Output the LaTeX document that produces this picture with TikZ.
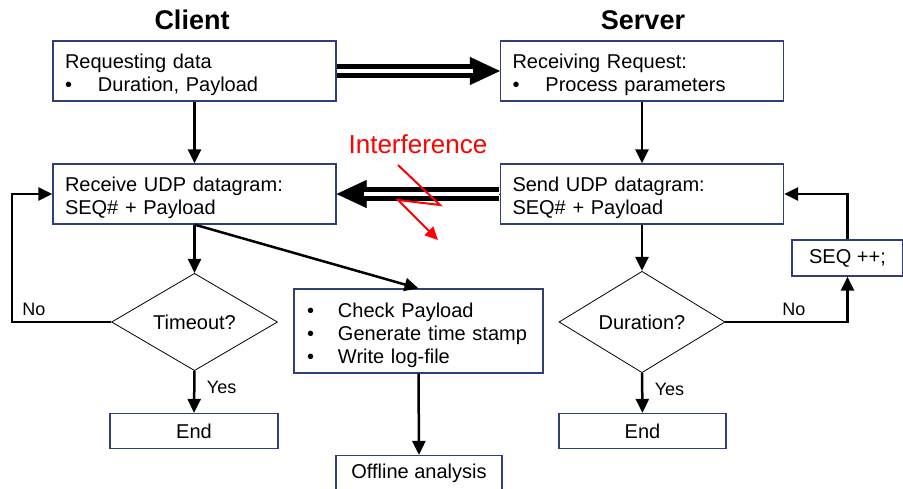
\documentclass[tikz,border=0pt]{standalone}
\usepackage{fontspec}
\setmainfont{Liberation Sans}
\usetikzlibrary{arrows.meta, shapes.geometric, positioning}
\definecolor{boxblue}{RGB}{47,63,120}

\begin{document}
\begin{tikzpicture}[x=1pt, y=-1pt,
    box/.style={draw=boxblue, line width=1.2pt, rectangle, minimum width=283pt, minimum height=60pt,
        text width=259pt, inner xsep=12pt, align=left, font=\fontsize{20}{23}\selectfont,
        execute at begin node={\rule{0pt}{23pt}}},
    endbox/.style={draw=boxblue, line width=1.2pt, rectangle, minimum height=35pt, inner sep=0pt,
        font=\fontsize{20}{23}\selectfont},
    decision/.style={draw, diamond, line width=0.8pt, minimum width=166pt, minimum height=68pt,
        inner sep=0pt, font=\fontsize{20}{23}\selectfont},
    arr/.style={line width=2.5pt, -{Triangle[length=14pt,width=13pt]}},
    lbl/.style={font=\fontsize{18}{20}\selectfont},
    title/.style={font=\fontsize{27}{30}\selectfont\bfseries}]
    \useasboundingbox (0,0) rectangle (903,489);

    % Titles
    \node[title] (cli) at (192,20) {Client};
    \node[title] (srv) at (643,20) {Server};

    % Client side
    \node[box] (req) at (194.5,71) {Requesting data\\\makebox[33pt][l]{\textbullet}Duration, Payload};
    \node[box] (rcv) at (194.5,194) {Receive UDP datagram:\\SEQ\# + Payload};
    \node[decision] (tmo) at (194.5,322) {Timeout?};
    \node[endbox, minimum width=168pt] (end1) at (194,431) {End};
    \node[box, minimum width=249pt, text width=223pt, inner xsep=13pt, minimum height=84pt,
        execute at begin node={\rule{0pt}{20pt}}] (chk) at (418.5,331)
        {\makebox[31pt][l]{\textbullet}Check Payload\\\makebox[31pt][l]{\textbullet}Generate time stamp\\\makebox[31pt][l]{\textbullet}Write log-file};
    \node[endbox, minimum width=166pt] (off) at (419,473) {Offline analysis};

    % Server side
    \node[box] (rrq) at (642,71) {Receiving Request:\\\makebox[33pt][l]{\textbullet}Process parameters};
    \node[box] (snd) at (642,194) {Send UDP datagram:\\SEQ\# + Payload};
    \node[decision] (dur) at (642,322) {Duration?};
    \node[endbox, minimum width=167pt] (end2) at (642.5,431) {End};
    \node[endbox, minimum width=111pt, minimum height=36pt] (seq) at (847.5,258) {SEQ ++;};

    % Flow arrows
    \draw[arr] (req) -- (rcv);
    \draw[arr] (rrq) -- (snd);
    \draw[arr] (rcv.south) -- (tmo.north);
    \draw[arr] (rcv.south) -- (chk.north);
    \draw[arr] (tmo.south) -- node[lbl, pos=0.4, right=8pt] {Yes} (end1.north);
    \draw[arr] (chk.south) -- (off.north);
    \draw[arr] (snd.south) -- (dur.north);
    \draw[arr] (dur.south) -- node[lbl, pos=0.4, right=8pt] {Yes} (end2.north);

    % Loops
    \coordinate (lft) at (12,322);
    \draw[arr] (tmo.west) -- node[lbl, pos=0.78, above=2pt] {No} (lft) |- (rcv.west);
    \draw[arr] (dur.east) -| node[lbl, pos=0.28, above=2pt] {No} (seq.south);
    \draw[arr] (seq.north) |- (snd.east);

    % Double arrows between client and server
    \foreach \s/\t in {req/rrq, snd/rcv} {
        \draw[line width=0.4pt, -{Triangle[length=30pt,width=28pt]}] (\s) -- (\t);
        \draw[line width=5pt, double=white, double distance=4pt, shorten >=27pt, shorten <=0.6pt] (\s) -- (\t);
    }

    % Interference
    \node[red, font=\fontsize{26}{30}\selectfont] (itf) at (418,144) {Interference};
    \draw[red, line width=2pt, line join=miter, -{Triangle[length=13pt,width=12pt]}]
        (398,165) -- (440,205) -- (398,200) -- (438,240);
\end{tikzpicture}
\end{document}
